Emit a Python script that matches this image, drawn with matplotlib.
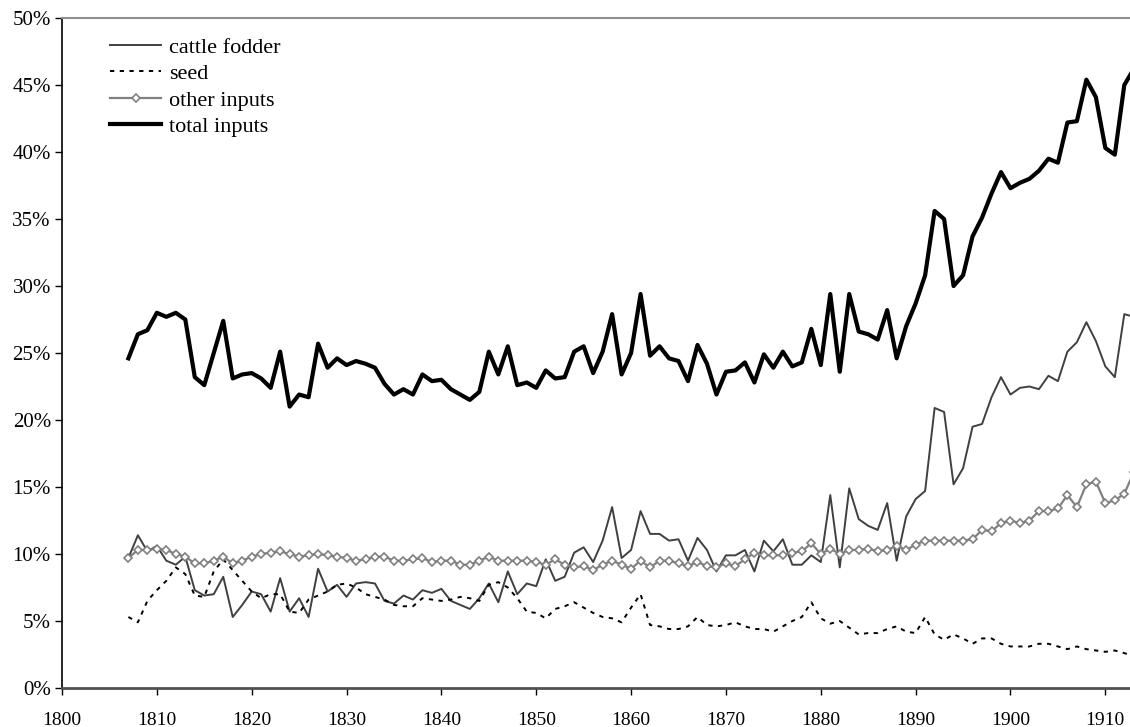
import matplotlib
matplotlib.use("Agg")
import matplotlib.pyplot as plt
from matplotlib.ticker import FuncFormatter

plt.rcParams['font.family'] = ['Liberation Serif', 'DejaVu Serif']

years = list(range(1807, 1914))

total_inputs = [
    24.6, 26.4, 26.7, 28.0, 27.7, 28.0, 27.5, 23.2, 22.6, 25.0,
    27.4, 23.1, 23.4, 23.5, 23.1, 22.4, 25.1, 21.0, 21.9, 21.7,
    25.7, 23.9, 24.6, 24.1, 24.4, 24.2, 23.9, 22.7, 21.9, 22.3,
    21.9, 23.4, 22.9, 23.0, 22.3, 21.9, 21.5, 22.1, 25.1, 23.4,
    25.5, 22.6, 22.8, 22.4, 23.7, 23.1, 23.2, 25.1, 25.5, 23.5,
    25.1, 27.9, 23.4, 25.0, 29.4, 24.8, 25.5, 24.6, 24.4, 22.9,
    25.6, 24.2, 21.9, 23.6, 23.7, 24.3, 22.8, 24.9, 23.9, 25.1,
    24.0, 24.3, 26.8, 24.1, 29.4, 23.6, 29.4, 26.6, 26.4, 26.0,
    28.2, 24.6, 27.0, 28.7, 30.8, 35.6, 35.0, 30.0, 30.8, 33.7,
    35.1, 36.9, 38.5, 37.3, 37.7, 38.0, 38.6, 39.5, 39.2, 42.2,
    42.3, 45.4, 44.1, 40.3, 39.8, 45.0, 46.2]

cattle_fodder = [
    9.7, 11.4, 10.2, 10.6, 9.5, 9.2, 9.8, 7.3, 6.9, 7.0,
    8.3, 5.3, 6.2, 7.2, 7.0, 5.7, 8.2, 5.7, 6.7, 5.3,
    8.9, 7.2, 7.7, 6.8, 7.8, 7.9, 7.8, 6.5, 6.3, 6.9,
    6.6, 7.3, 7.1, 7.4, 6.5, 6.2, 5.9, 6.7, 7.8, 6.4,
    8.7, 7.0, 7.8, 7.6, 9.6, 8.0, 8.3, 10.1, 10.5, 9.4,
    11.0, 13.5, 9.7, 10.3, 13.2, 11.5, 11.5, 11.0, 11.1, 9.5,
    11.2, 10.3, 8.7, 9.9, 9.9, 10.3, 8.7, 11.0, 10.2, 11.1,
    9.2, 9.2, 9.9, 9.4, 14.4, 9.0, 14.9, 12.6, 12.1, 11.8,
    13.8, 9.5, 12.8, 14.1, 14.7, 20.9, 20.6, 15.2, 16.4, 19.5,
    19.7, 21.7, 23.2, 21.9, 22.4, 22.5, 22.3, 23.3, 22.9, 25.1,
    25.8, 27.3, 25.9, 24.0, 23.2, 27.9, 27.7]

seed = [
    5.3, 4.9, 6.5, 7.3, 8.0, 9.0, 8.5, 6.9, 6.8, 8.7,
    9.6, 8.8, 8.0, 7.2, 6.7, 7.0, 7.0, 5.7, 5.6, 6.6,
    6.9, 7.2, 7.7, 7.8, 7.5, 7.0, 6.8, 6.6, 6.2, 6.1,
    6.1, 6.7, 6.6, 6.5, 6.6, 6.8, 6.7, 6.5, 7.7, 7.9,
    7.5, 6.7, 5.7, 5.6, 5.2, 5.9, 6.1, 6.4, 6.0, 5.6,
    5.3, 5.2, 4.9, 6.0, 7.0, 4.7, 4.6, 4.4, 4.4, 4.6,
    5.3, 4.7, 4.6, 4.7, 4.9, 4.6, 4.4, 4.4, 4.2, 4.6,
    5.0, 5.3, 6.4, 5.2, 4.8, 5.0, 4.5, 4.0, 4.1, 4.1,
    4.4, 4.6, 4.2, 4.1, 5.3, 4.0, 3.6, 4.0, 3.7, 3.3,
    3.7, 3.7, 3.3, 3.1, 3.1, 3.1, 3.3, 3.3, 3.1, 2.9,
    3.1, 2.9, 2.8, 2.7, 2.8, 2.6, 2.4]

other_inputs = [
    9.7, 10.3, 10.3, 10.4, 10.3, 10.0, 9.8, 9.3, 9.3, 9.5,
    9.8, 9.3, 9.5, 9.8, 10.0, 10.1, 10.2, 10.0, 9.8, 9.9,
    10.0, 9.9, 9.8, 9.7, 9.5, 9.6, 9.8, 9.8, 9.5, 9.5,
    9.6, 9.7, 9.4, 9.5, 9.5, 9.2, 9.2, 9.5, 9.8, 9.5,
    9.5, 9.5, 9.5, 9.4, 9.2, 9.6, 9.2, 9.0, 9.1, 8.8,
    9.2, 9.5, 9.2, 8.9, 9.5, 9.0, 9.5, 9.5, 9.3, 9.1,
    9.4, 9.1, 9.0, 9.3, 9.1, 9.6, 10.1, 9.9, 9.9, 9.9,
    10.1, 10.2, 10.8, 10.0, 10.4, 10.0, 10.3, 10.3, 10.4, 10.2,
    10.3, 10.6, 10.3, 10.7, 11.0, 11.0, 11.0, 11.0, 11.0, 11.1,
    11.8, 11.7, 12.3, 12.5, 12.3, 12.5, 13.2, 13.2, 13.4, 14.4,
    13.5, 15.2, 15.4, 13.8, 14.0, 14.5, 16.1]

x_ticks = list(range(1800, 1911, 10))
y_ticks = list(range(0, 51, 5))

W, H = 1130, 727
fig = plt.figure(figsize=(W / 100, H / 100), dpi=100)
ax = fig.add_axes([62 / W, (H - 688) / H, 1 - 62 / W, (688 - 18) / H])

ax.plot(years, cattle_fodder, color='#404040', lw=1.4, label='cattle fodder')
ax.plot(years, seed, color='black', lw=1.4, ls=(0, (2.2, 2.8)), label='seed')
ax.plot(years, other_inputs, color='#808080', lw=1.6, marker='D', ms=3.8,
        mfc='white', mec='#808080', mew=1.2, label='other inputs')
ax.plot(years, total_inputs, color='black', lw=3.0, label='total inputs')

ax.set_xlim(1800, 1912.6)
ax.set_ylim(0, 50)
ax.set_xticks(x_ticks)
ax.set_yticks(y_ticks)
ax.yaxis.set_major_formatter(FuncFormatter(lambda v, p: f"{int(v)}%"))

ax.spines['right'].set_visible(False)
ax.spines['top'].set_color('#909090')
ax.spines['top'].set_linewidth(1.5)
ax.spines['left'].set_color('black')
ax.spines['left'].set_linewidth(1.2)
ax.spines['bottom'].set_color('#505050')
ax.spines['bottom'].set_linewidth(2.0)

ax.tick_params(axis='y', direction='out', length=5, width=1.0, pad=3,
               labelsize=15, colors='black')
ax.tick_params(axis='x', direction='out', length=5, width=1.0, pad=12,
               labelsize=14, colors='black')

leg = ax.legend(loc='upper left', bbox_to_anchor=(110 / W, (H - 37) / H),
                bbox_transform=fig.transFigure, frameon=False, fontsize=16,
                handlelength=2.3, handletextpad=0.35, labelspacing=0.27,
                borderpad=0, borderaxespad=0)

fig.savefig('out.png', dpi=100)
